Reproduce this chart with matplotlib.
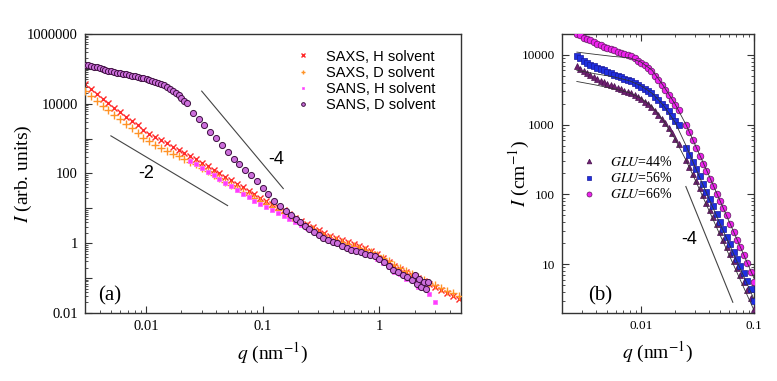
import matplotlib.pyplot as plt
from matplotlib.ticker import FixedLocator, FixedFormatter, LogLocator, NullFormatter

plt.rcParams['font.family'] = ['Liberation Serif', 'DejaVu Serif']
plt.rcParams['mathtext.fontset'] = 'stix'

# ---------------- panel (a): SAXS / SANS curves ----------------
q_saxs = [0.00300, 0.00337, 0.00378, 0.00424, 0.00476, 0.00534, 0.00599, 0.00673, 0.00755, 0.00847,
          0.00950, 0.0107, 0.0120, 0.0134, 0.0151, 0.0169, 0.0190, 0.0213, 0.0239, 0.0268,
          0.0301, 0.0338, 0.0379, 0.0425, 0.0477, 0.0535, 0.0601, 0.0674, 0.0756, 0.0849,
          0.0952, 0.107, 0.120, 0.134, 0.151, 0.169, 0.190, 0.213, 0.239, 0.268,
          0.301, 0.338, 0.379, 0.425, 0.477, 0.535, 0.601, 0.674, 0.756, 0.849,
          0.952, 1.07, 1.20, 1.34, 1.51, 1.69, 1.90, 2.13, 2.39, 2.68,
          3.01, 3.38, 3.79, 4.25, 4.77]
i_saxs_h = [36000, 26300, 19500, 14100, 10500, 7760, 5750, 4270, 3240, 2400,
            1780, 1380, 1120, 912, 741, 589, 479, 389, 316, 257,
            204, 162, 129, 102, 81.3, 63.1, 50.1, 39.8, 32.4, 25.7,
            20.4, 16.2, 13.2, 11.0, 8.91, 6.76, 5.25, 4.27, 3.47, 2.88,
            2.34, 1.91, 1.62, 1.41, 1.23, 1.07, 0.955, 0.813, 0.708, 0.603,
            0.490, 0.372, 0.288, 0.224, 0.182, 0.151, 0.123, 0.100, 0.0832, 0.0676,
            0.0562, 0.0457, 0.0372, 0.0302, 0.0251]
i_saxs_d = [22900, 16600, 12000, 8710, 6460, 4790, 3550, 2630, 1950, 1450,
            1070, 832, 676, 550, 447, 372, 309, 257, 214, 182,
            148, 117, 93.3, 74.1, 58.9, 45.7, 37.2, 30.2, 24.5, 20.0,
            16.2, 13.5, 11.0, 9.12, 7.59, 6.03, 4.90, 3.89, 3.16, 2.51,
            2.00, 1.62, 1.38, 1.20, 1.07, 0.955, 0.832, 0.741, 0.646, 0.562,
            0.468, 0.372, 0.302, 0.240, 0.195, 0.158, 0.132, 0.107, 0.0871, 0.0724,
            0.0617, 0.0513, 0.0437, 0.0372, 0.0309]

q_sans_h = [0.0239, 0.0268, 0.0301, 0.0338, 0.0379, 0.0425, 0.0477, 0.0535, 0.0601, 0.0674,
            0.0756, 0.0849, 0.0952, 0.107, 0.120, 0.134, 0.151, 0.169, 0.190, 0.213,
            0.239, 0.268, 0.301, 0.338, 0.379, 0.425, 0.477, 0.535, 0.601, 0.674,
            0.756, 0.849, 0.952, 1.07, 1.20, 1.34, 1.51, 1.69, 1.90, 2.13,
            2.39, 2.68, 3.01]
i_sans_h = [234, 186, 145, 112, 89.1, 69.2, 53.7, 42.7, 33.1, 26.3,
            20.9, 16.6, 13.2, 10.7, 8.71, 7.24, 6.03, 5.01, 4.07, 3.31,
            2.69, 2.19, 1.78, 1.45, 1.20, 1.05, 0.912, 0.794, 0.692, 0.603,
            0.525, 0.457, 0.363, 0.275, 0.209, 0.151, 0.132, 0.0955, 0.0891, 0.0562,
            0.0708, 0.0355, 0.0200]

q_sans_d = [0.00300, 0.00318, 0.00337, 0.00357, 0.00378, 0.00400, 0.00424, 0.00449, 0.00476, 0.00504,
            0.00534, 0.00566, 0.00599, 0.00635, 0.00673, 0.00712, 0.00755, 0.00799, 0.00847, 0.00897,
            0.00950, 0.0101, 0.0107, 0.0113, 0.0120, 0.0127, 0.0134, 0.0142, 0.0151, 0.0160,
            0.0169, 0.0179, 0.0190, 0.0201, 0.0213, 0.0224,
            0.0251, 0.0282, 0.0316, 0.0355, 0.0398, 0.0447, 0.0501, 0.0562, 0.0631, 0.0708,
            0.0794, 0.0891, 0.100, 0.112, 0.126, 0.141, 0.158, 0.174, 0.191, 0.209,
            0.229, 0.251, 0.275, 0.302, 0.331, 0.363, 0.398, 0.437, 0.479, 0.525,
            0.575, 0.631, 0.692, 0.759, 0.832, 0.912, 1.00, 1.10, 1.20, 1.32,
            1.45, 1.58, 1.74, 1.91, 2.00, 2.09, 2.19, 2.29, 2.40, 2.51, 2.63]
i_sans_d = [132000, 126000, 120000, 115000, 110000, 105000, 100000, 95500, 89100, 85100,
            81300, 77600, 74100, 72400, 69200, 66100, 63100, 61700, 58900, 56200,
            53700, 52500, 49000, 44700, 41700, 38900, 36300, 33900, 29500, 25700,
            22900, 20000, 17400, 14800, 12300, 10200,
            5250, 3630, 2400, 1580, 1050, 661, 417, 269, 182, 126,
            89.1, 60.3, 38.0, 25.1, 16.6, 12.0, 8.32, 6.31, 5.01, 3.98,
            3.16, 2.63, 2.14, 1.78, 1.45, 1.20, 1.07, 1.00, 0.851, 0.741,
            0.661, 0.603, 0.550, 0.501, 0.457, 0.417, 0.347, 0.282, 0.219, 0.174,
            0.151, 0.120, 0.105, 0.0891, 0.126, 0.0661, 0.0955, 0.0562, 0.0759, 0.0501, 0.0794]

# power law guides in (a)
guide_m2_q = [0.005, 0.05]
guide_m2_i = [1200, 12]
guide_m4_q = [0.03, 0.15]
guide_m4_i = [23000, 37]

# ---------------- panel (b): GLU series ----------------
q_glu = [0.00272, 0.00292, 0.00313, 0.00335, 0.00359, 0.00385, 0.00412, 0.00442, 0.00473, 0.00507,
         0.00543, 0.00582, 0.00624, 0.00668, 0.00716, 0.00767, 0.00822, 0.00881, 0.00944, 0.0101,
         0.0108, 0.0116, 0.0124, 0.0133, 0.0143, 0.0153, 0.0164, 0.0176, 0.0188, 0.0202, 0.0216,
         0.0251, 0.0269, 0.0288, 0.0309, 0.0331, 0.0355, 0.0380, 0.0407, 0.0437, 0.0468,
         0.0501, 0.0537, 0.0575, 0.0617, 0.0661, 0.0708, 0.0759, 0.0813, 0.0871, 0.0933, 0.100]
i_glu44 = [6920, 6310, 5890, 5500, 5130, 4790, 4470, 4270, 4070, 3890,
           3720, 3550, 3390, 3240, 3090, 2950, 2820, 2690, 2510, 2340,
           2140, 2000, 1820, 1580, 1380, 1200, 1050, 891, 759, 631, 525,
           309, 245, 195, 155, 123, 97.7, 75.9, 60.3, 46.8, 37.2,
           28.8, 22.4, 17.8, 14.1, 11.0, 8.71, 6.92, 5.50, 4.27, 3.24, 2.29]
i_glu56 = [9770, 8910, 8320, 7760, 7240, 6920, 6610, 6310, 6030, 5750,
           5500, 5250, 5010, 4790, 4570, 4370, 4170, 3980, 3720, 3470,
           3240, 3020, 2820, 2510, 2240, 2000, 1820, 1580, 1350, 1150, 977,
           457, 363, 288, 229, 182, 141, 110, 87.1, 67.6, 52.5,
           40.7, 31.6, 24.5, 19.5, 15.1, 11.7, 9.33, 7.41, 5.75, 4.37, 3.02]
i_glu66 = [20000, 19100, 17800, 17000, 16200, 15100, 14500, 13800, 13200, 12600,
           12300, 11700, 11200, 10700, 10500, 10000, 9550, 9120, 8320, 7760,
           7080, 6610, 5890, 5010, 4370, 3720, 3160, 2690, 2290, 1910, 1620,
           1000, 776, 603, 457, 355, 275, 214, 166, 132, 102,
           81.3, 63.1, 50.1, 38.0, 28.8, 22.4, 17.4, 13.5, 10.5, 7.76, 5.62]

q_fit = [0.00272, 0.00398, 0.00562, 0.00794, 0.0100, 0.0126, 0.0158, 0.0200,
         0.0251, 0.0316, 0.0398, 0.0501, 0.0631, 0.0794, 0.100]
fit44 = [4170, 3720, 3310, 2880, 2400, 1820, 1150, 631, 309, 138, 60.3, 26.3, 11.5, 5.01, 2.19]
fit56 = [6030, 5370, 4900, 4270, 3630, 2820, 1910, 1100, 501, 209, 89.1, 38.0, 16.6, 7.24, 3.16]
fit66 = [11000, 10200, 9550, 9120, 7940, 6030, 3630, 2000, 1000, 437, 191, 81.3, 34.7, 14.8, 6.31]

guide_b_q = [0.025, 0.065]
guide_b_i = [130, 2.85]


def style_axes(ax, all_sides, labelsize):
    # ticki skierowane do wewnątrz
    ax.tick_params(which='both', direction='in', top=all_sides, right=all_sides,
                   labelsize=labelsize, color='#333333', pad=5)
    ax.tick_params(which='major', length=5, width=0.8)
    ax.tick_params(which='minor', length=2.5, width=0.6)
    for s in ax.spines.values():
        s.set_color('#333333')
        s.set_linewidth(1.0)


def main():
    fig = plt.figure(figsize=(7.77, 3.81), dpi=100)
    ax1 = fig.add_axes([0.1094, 0.1785, 0.4839, 0.7323])
    ax2 = fig.add_axes([0.7229, 0.1785, 0.2475, 0.7323])

    # ---- (a) ----
    ax1.plot(q_saxs, i_saxs_h, 'x', color='#ff2a2a', ms=5, mew=1.0, label='SAXS, H solvent', zorder=2)
    ax1.plot(q_saxs, i_saxs_d, '+', color='#ff9326', ms=6, mew=1.0, label='SAXS, D solvent', zorder=3)
    ax1.plot(q_sans_h, i_sans_h, 's', color='#ff3cff', mec='#ff66ff', ms=2.8, mew=0.6,
             label='SANS, H solvent', zorder=4)
    ax1.plot(q_sans_d, i_sans_d, 'o', mfc='#cc6fdc', mec='#3d0f40', ms=4.4, mew=0.7,
             label='SANS, D solvent', zorder=5)
    ax1.plot(guide_m2_q, guide_m2_i, color='#444444', lw=0.8)
    ax1.plot(guide_m4_q, guide_m4_i, color='#444444', lw=0.8)

    ax1.set_xscale('log')
    ax1.set_yscale('log')
    ax1.set_xlim(0.003, 5)
    ax1.set_ylim(0.01, 1e6)
    style_axes(ax1, False, 10.5)
    ax1.yaxis.set_major_locator(FixedLocator([1e-2, 1e-1, 1, 10, 1e2, 1e3, 1e4, 1e5, 1e6]))
    ax1.yaxis.set_major_formatter(FixedFormatter(['0.01', '', '1', '', '100', '', '10000', '', '1000000']))
    ax1.yaxis.set_minor_locator(LogLocator(base=10, subs=range(2, 10), numticks=20))
    ax1.yaxis.set_minor_formatter(NullFormatter())
    ax1.xaxis.set_major_locator(FixedLocator([0.01, 0.1, 1]))
    ax1.xaxis.set_major_formatter(FixedFormatter(['0.01', '0.1', '1']))
    ax1.xaxis.set_minor_locator(LogLocator(base=10, subs=range(2, 10), numticks=20))
    ax1.xaxis.set_minor_formatter(NullFormatter())

    ax1.set_xlabel(r'$q$ (nm$^{-1}$)', fontsize=14, labelpad=6)
    ax1.set_ylabel(r'$I$ (arb. units)', fontsize=14)
    ax1.yaxis.set_label_coords(-0.135, 0.5)
    ax1.text(0.01, 100, '-2', fontsize=13, family='Liberation Sans', ha='center', va='center')
    ax1.text(0.13, 260, '-4', fontsize=13, family='Liberation Sans', ha='center', va='center')
    ax1.text(0.035, 0.045, '(a)', fontsize=15, transform=ax1.transAxes)
    ax1.legend(loc='upper left', bbox_to_anchor=(0.54, 0.965), frameon=False,
               prop={'family': 'Liberation Sans', 'size': 10.5}, handlelength=1.2,
               handletextpad=1.0, labelspacing=0.15, borderaxespad=0, markerscale=0.6)

    # ---- (b) ----
    ax2.plot(q_fit, fit44, color='#333333', lw=0.6, zorder=4)
    ax2.plot(q_fit, fit56, color='#333333', lw=0.6, zorder=4)
    ax2.plot(q_fit, fit66, color='#333333', lw=0.6, zorder=4)
    ax2.plot(q_glu, i_glu44, '^', mfc='#6e1f70', mec='#4a1050', ms=4.5, mew=0.5,
             label=r'$GLU$=44%', zorder=3)
    ax2.plot(q_glu, i_glu56, 's', mfc='#1f2fe0', mec='#1a1a9a', ms=4.2, mew=0.5,
             label=r'$GLU$=56%', zorder=3)
    ax2.plot(q_glu, i_glu66, 'o', mfc='#ee22ee', mec='#5a1a5a', ms=4.8, mew=0.5,
             label=r'$GLU$=66%', zorder=3)
    ax2.plot(guide_b_q, guide_b_i, color='#444444', lw=0.8)

    ax2.set_xscale('log')
    ax2.set_yscale('log')
    ax2.set_xlim(0.002, 0.1)
    ax2.set_ylim(2, 2e4)
    style_axes(ax2, True, 9.5)
    ax2.yaxis.set_major_locator(FixedLocator([10, 100, 1000, 10000]))
    ax2.yaxis.set_major_formatter(FixedFormatter(['10', '100', '1000', '10000']))
    ax2.yaxis.set_minor_locator(LogLocator(base=10, subs=range(2, 10), numticks=20))
    ax2.yaxis.set_minor_formatter(NullFormatter())
    ax2.xaxis.set_major_locator(FixedLocator([0.01, 0.1]))
    ax2.xaxis.set_major_formatter(FixedFormatter(['0.01', '0.1']))
    ax2.xaxis.set_minor_locator(LogLocator(base=10, subs=range(2, 10), numticks=20))
    ax2.xaxis.set_minor_formatter(NullFormatter())

    ax2.set_xlabel(r'$q$ (nm$^{-1}$)', fontsize=14, labelpad=6)
    ax2.set_ylabel(r'$I$ (cm$^{-1}$)', fontsize=14)
    ax2.yaxis.set_label_coords(-0.155, 0.5)
    ax2.text(0.027, 23, '-4', fontsize=13, family='Liberation Sans', ha='center', va='center')
    ax2.text(0.135, 0.045, '(b)', fontsize=15, transform=ax2.transAxes)
    ax2.legend(loc='upper left', bbox_to_anchor=(0.07, 0.585), frameon=False,
               prop={'size': 10}, handlelength=1.2, handletextpad=0.9,
               labelspacing=0.15, borderaxespad=0, markerscale=0.75)

    fig.savefig('out.png', dpi=100)


if __name__ == "__main__":
    main()
